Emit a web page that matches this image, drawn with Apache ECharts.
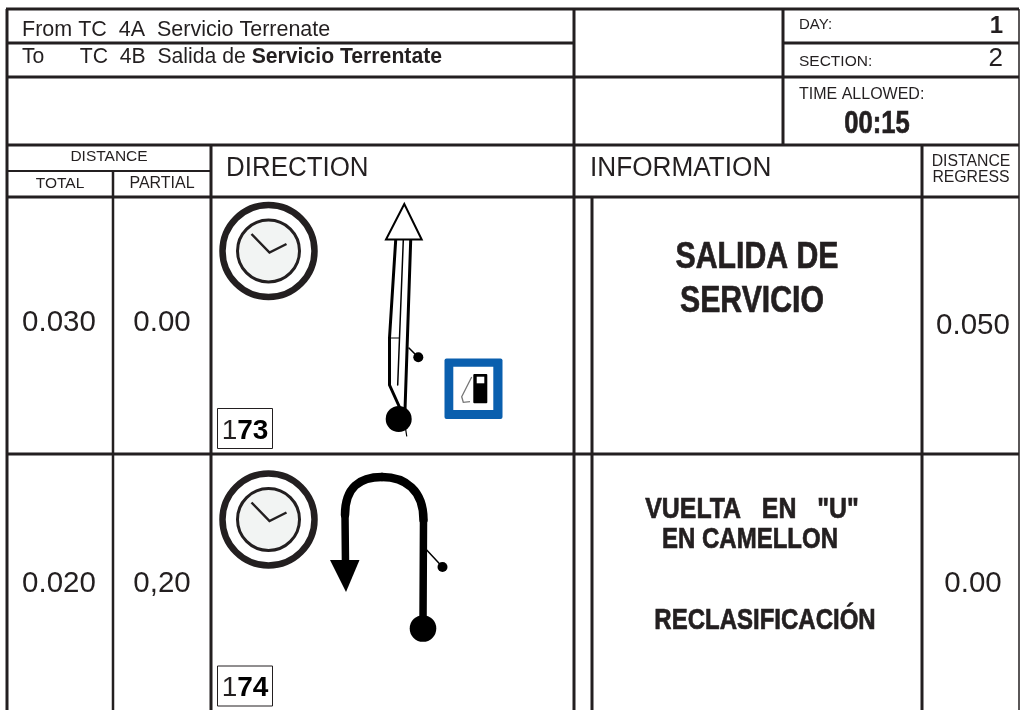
<!DOCTYPE html>
<html>
<head>
<meta charset="utf-8">
<title>Roadbook</title>
<script src="https://cdn.jsdelivr.net/npm/echarts@6/dist/echarts.min.js"></script>
<style>
  html, body { margin: 0; padding: 0; background: #fff; }
  #main { width: 1021px; height: 710px; }
</style>
</head>
<body>
<div id="main"></div>
<script>
// roadbook page values
var fromLine = 'From TC  4A  Servicio Terrenate';
var toLine = ['To      TC  4B  Salida de ', 'Servicio Terrentate'];
var dayLabels = ['DAY:', 'SECTION:', 'TIME ALLOWED:'];
var dayValues = ['1', '2', '00:15'];
var columnHeads = ['DISTANCE', 'TOTAL', 'PARTIAL', 'DIRECTION', 'INFORMATION'];
var regressHead = ['DISTANCE', 'REGRESS'];
var totalDist = ['0.030', '0.020'];
var partialDist = ['0.00', '0,20'];
var regressDist = ['0.050', '0.00'];
var stepNo = [['1', '73'], ['1', '74']];
var infoFirst = ['SALIDA DE', 'SERVICIO'];
var infoSecond = ['VUELTA   EN   "U"', 'EN CAMELLON', 'RECLASIFICACIÓN'];

var INK = '#231f20';
var SANS = '"Liberation Sans", Arial, sans-serif';

// table rules: [x1, y1, x2, y2, width]
var rules = [
  [6, 9, 1019, 9, 3], [6, 43, 574, 43, 3], [783, 43, 1019, 43, 3],
  [6, 77, 1019, 77, 3], [6, 145, 1019, 145, 3], [6, 171, 211, 171, 2],
  [6, 197, 1019, 197, 3], [6, 454, 1019, 454, 3],
  [7, 9, 7, 710, 3], [113, 171, 113, 710, 2.5], [211, 145, 211, 710, 3],
  [574, 9, 574, 710, 3], [592, 197, 592, 710, 3], [783, 9, 783, 145, 3],
  [922, 145, 922, 710, 3], [1019, 9, 1019, 710, 1.5]
];

var texts = [];
function put(text, x, y, size, align, weight, sx) {
  texts.push({ text: text, x: x, y: y, size: size, align: align || 'left', weight: weight || 'normal', sx: sx || 1 });
}

put(fromLine, 22, 28, 21.5);
texts.push({
  rich: '{a|' + toLine[0] + '}{b|' + toLine[1] + '}', x: 22, y: 55, align: 'left', sx: 1,
  styles: { a: { fontSize: 21.2, fontFamily: SANS, fill: INK }, b: { fontSize: 21.2, fontFamily: SANS, fontWeight: 'bold', fill: INK } }
});

put(dayLabels[0], 799, 23, 15);
put(dayLabels[1], 799, 60, 15.5);
put(dayLabels[2], 799, 93, 16);
put(dayValues[0], 1003, 24, 24, 'right', 'bold');
put(dayValues[1], 1003, 57, 26, 'right');
put(dayValues[2], 877, 122, 32, 'center', 'bold', 0.8);

put(columnHeads[0], 109, 155, 15.5, 'center');
put(columnHeads[1], 60, 182, 15.5, 'center');
put(columnHeads[2], 162, 182, 16, 'center');
put(columnHeads[3], 226, 167, 27, 'left', 'normal', 0.96);
put(columnHeads[4], 590, 167, 27, 'left', 'normal', 0.97);
put(regressHead[0], 971, 160, 15.8, 'center');
put(regressHead[1], 971, 176, 15.8, 'center');

var rowMid = [321, 582];
rowMid.forEach(function (y, i) {
  put(totalDist[i], 59, y, 29.5, 'center');
  put(partialDist[i], 162, y, 29.5, 'center');
  put(regressDist[i], 973, y + (i === 0 ? 3 : 0), 29.5, 'center');
});

put(infoFirst[0], 757, 256, 36, 'center', 'bold', 0.84);
put(infoFirst[1], 752, 300, 36, 'center', 'bold', 0.84);
put(infoSecond[0], 752, 508, 30, 'center', 'bold', 0.83);
put(infoSecond[1], 750, 538, 30, 'center', 'bold', 0.8);
put(infoSecond[2], 765, 619, 30, 'center', 'bold', 0.8);

var stepBoxes = [[217.5, 408.5, 55, 40], [217.5, 666, 55, 40]];
stepBoxes.forEach(function (b, i) {
  texts.push({
    rich: '{a|' + stepNo[i][0] + '}{b|' + stepNo[i][1] + '}', x: b[0] + 27.5, y: b[1] + 20.5, align: 'center', sx: 1,
    styles: { a: { fontSize: 28, fontFamily: SANS, fill: INK }, b: { fontSize: 28, fontFamily: SANS, fontWeight: 'bold', fill: '#000' } }
  });
});

function clock(cx, cy) {
  return [
    { type: 'circle', shape: { cx: cx, cy: cy, r: 46 }, style: { fill: '#fff', stroke: INK, lineWidth: 6.5 } },
    { type: 'circle', shape: { cx: cx, cy: cy, r: 31 }, style: { fill: '#f2f4f3', stroke: INK, lineWidth: 3 } },
    { type: 'polyline', shape: { points: [[cx - 17, cy - 17], [cx + 1, cy + 1.5], [cx + 18, cy - 7]] }, style: { fill: 'none', stroke: INK, lineWidth: 2.5 } }
  ];
}

function stroke(points, w) {
  return { type: 'polyline', shape: { points: points }, style: { fill: 'none', stroke: '#000', lineWidth: w, lineCap: 'round' } };
}

function dot(cx, cy, r) {
  return { type: 'circle', shape: { cx: cx, cy: cy, r: r }, style: { fill: '#000' } };
}

function curve(x1, y1, cx1, cy1, cx2, cy2, x2, y2, w) {
  return { type: 'bezierCurve', shape: { x1: x1, y1: y1, cpx1: cx1, cpy1: cy1, cpx2: cx2, cpy2: cy2, x2: x2, y2: y2 }, style: { fill: 'none', stroke: '#000', lineWidth: w, lineCap: 'round' } };
}

// step icons
var icons = [].concat(
  clock(268.5, 251), clock(268.5, 519.5),
  [
    stroke([[410.7, 240], [405, 410]], 3),
    stroke([[395.7, 240], [389.5, 338], [389.5, 385], [401.7, 412]], 3),
    stroke([[403.3, 240], [397.7, 385]], 1.5),
    stroke([[389.5, 338], [399, 338]], 1.2),
    { type: 'polygon', shape: { points: [[404.3, 204], [386, 239.5], [421.7, 239.5]] }, style: { fill: '#fff', stroke: '#000', lineWidth: 2 } },
    dot(398.7, 419, 13),
    stroke([[405, 425], [406.7, 436]], 1.2),
    stroke([[409, 348], [418, 357]], 1.5),
    dot(418.3, 357.3, 5),
    { type: 'rect', shape: { x: 444.5, y: 358.5, width: 58, height: 60.5, r: 2 }, style: { fill: '#0a5fae' } },
    { type: 'rect', shape: { x: 453.3, y: 366.7, width: 40, height: 43.3 }, style: { fill: '#fff' } },
    { type: 'rect', shape: { x: 473.3, y: 374, width: 14, height: 29.3, r: 1 }, style: { fill: '#000' } },
    { type: 'rect', shape: { x: 476.7, y: 376.7, width: 7.6, height: 6.6 }, style: { fill: '#fff' } },
    { type: 'polyline', shape: { points: [[471.7, 377], [461.7, 396.7], [463.3, 402.3], [470, 401.7]] }, style: { fill: 'none', stroke: '#777', lineWidth: 1.3 } },

    stroke([[423, 622], [423.5, 520]], 7.5),
    curve(423.5, 520, 423.5, 490, 405, 477, 382, 477, 8.5),
    curve(382, 477, 360, 477, 345, 487, 345, 515, 8.5),
    stroke([[345, 515], [345.5, 565]], 7.5),
    { type: 'polygon', shape: { points: [[330, 560], [359.5, 560], [346, 592]] }, style: { fill: '#000' } },
    dot(423, 628.5, 13.3),
    stroke([[426.7, 550], [442.3, 566.7]], 1.5),
    dot(442.5, 567, 5),

    { type: 'rect', shape: { x: stepBoxes[0][0], y: stepBoxes[0][1], width: stepBoxes[0][2], height: stepBoxes[0][3] }, style: { fill: 'none', stroke: INK, lineWidth: 1 } },
    { type: 'rect', shape: { x: stepBoxes[1][0], y: stepBoxes[1][1], width: stepBoxes[1][2], height: stepBoxes[1][3] }, style: { fill: 'none', stroke: INK, lineWidth: 1 } }
  ]
);

var myChart = echarts.init(document.getElementById('main'), null, { renderer: 'canvas' });

myChart.setOption({
  animation: false,
  backgroundColor: '#fff',
  grid: { left: 0, right: 0, top: 0, bottom: 0 },
  xAxis: { type: 'value', min: 0, max: 1021, show: false },
  yAxis: { type: 'value', min: 0, max: 710, inverse: true, show: false },
  tooltip: { show: false },
  graphic: { elements: icons.map(function (el) { el.silent = true; return el; }) },
  series: [
    {
      name: 'rules',
      type: 'custom',
      coordinateSystem: 'cartesian2d',
      silent: true,
      data: rules,
      encode: { x: [0, 2], y: [1, 3] },
      renderItem: function (params, api) {
        var a = api.coord([api.value(0), api.value(1)]);
        var b = api.coord([api.value(2), api.value(3)]);
        return {
          type: 'line',
          shape: { x1: a[0], y1: a[1], x2: b[0], y2: b[1] },
          style: { stroke: INK, lineWidth: api.value(4), fill: null }
        };
      }
    },
    {
      name: 'texts',
      type: 'custom',
      coordinateSystem: 'cartesian2d',
      silent: true,
      clip: false,
      data: texts.map(function (t) { return [t.x, t.y]; }),
      renderItem: function (params, api) {
        var t = texts[params.dataIndex];
        var p = api.coord([api.value(0), api.value(1)]);
        var style = { x: 0, y: 0, align: t.align, verticalAlign: 'middle' };
        if (t.rich) {
          style.text = t.rich;
          style.rich = t.styles;
        } else {
          style.text = t.text;
          style.fontSize = t.size;
          style.fontFamily = SANS;
          style.fontWeight = t.weight;
          style.fill = INK;
          // squeezed bold looks thin, thicken it a bit
          if (t.weight === 'bold' && t.sx < 1) {
            style.stroke = INK;
            style.lineWidth = 0.7;
          }
        }
        // +2: text sits a bit high with verticalAlign middle
        return { type: 'text', x: p[0], y: p[1] + 2, scaleX: t.sx, style: style };
      }
    }
  ]
});
</script>
</body>
</html>
